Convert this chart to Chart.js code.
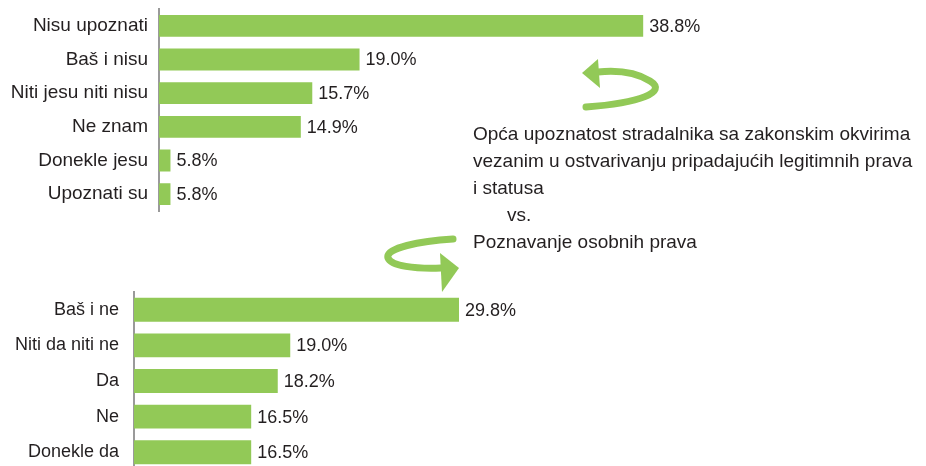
<!DOCTYPE html>
<html>
<head>
<meta charset="utf-8">
<script src="https://cdn.jsdelivr.net/npm/chart.js@4.4.1/dist/chart.umd.min.js"></script>
<style>
    html, body { margin: 0; padding: 0; background: #fff; }
    body { width: 926px; height: 466px; position: relative; overflow: hidden; font-family: "Liberation Sans", Arial, sans-serif; color: #231f20; }
    .chart-box { position: absolute; left: 0; }
    #topBox { top: 0; width: 740px; height: 220px; }
    #bottomBox { top: 280px; width: 640px; height: 200px; }
    #arrows { position: absolute; left: 0; top: 0; pointer-events: none; }
    .note { position: absolute; left: 473px; top: 120px; font-size: 19px; line-height: 27px; white-space: nowrap; }
    .note .vs { padding-left: 34px; }
</style>
</head>
<body>

<div class="chart-box" id="topBox"><canvas id="topChart" width="740" height="220"></canvas></div>
<div class="chart-box" id="bottomBox"><canvas id="bottomChart" width="640" height="200"></canvas></div>

<svg id="arrows" width="926" height="466">
    <!-- upper curl, pointing back at the first chart -->
    <path d="M 586 107 C 640 103, 668 92, 650 81 C 637 73, 618 70, 598 72" fill="none" stroke="#92c957" stroke-width="7" stroke-linecap="round"/>
    <polygon points="582,73 598,59 600,88" fill="#92c957"/>
    <!-- lower curl, pointing down at the second chart -->
    <path d="M 453 239 C 420 241, 385 248, 388 258 C 391 266, 415 269, 441 268" fill="none" stroke="#92c957" stroke-width="7" stroke-linecap="round"/>
    <polygon points="459,268 440,253 442,292" fill="#92c957"/>
</svg>

<div class="note">
    <div>Opća upoznatost stradalnika sa zakonskim okvirima</div>
    <div>vezanim u ostvarivanju pripadajućih legitimnih prava</div>
    <div>i statusa</div>
    <div class="vs">vs.</div>
    <div>Poznavanje osobnih prava</div>
</div>

<script>
// Data
const topLabels = ['Nisu upoznati', 'Baš i nisu', 'Niti jesu niti nisu', 'Ne znam', 'Donekle jesu', 'Upoznati su'];
const topValues = [38.8, 19.0, 15.7, 14.9, 5.8, 5.8];

const bottomLabels = ['Baš i ne', 'Niti da niti ne', 'Da', 'Ne', 'Donekle da'];
const bottomValues = [29.8, 19.0, 18.2, 16.5, 16.5];

const barGreen = '#92c957';
const textColor = '#231f20';
const axisGray = '#9a9a9a';

// Draws "xx.x%" just after the end of each bar
const valueLabels = {
    id: 'valueLabels',
    afterDatasetsDraw(chart, args, opts) {
        const ctx = chart.ctx;
        const values = chart.data.datasets[0].data;
        ctx.save();
        ctx.fillStyle = textColor;
        ctx.font = opts.size + 'px "Liberation Sans", Arial, sans-serif';
        ctx.textAlign = 'left';
        ctx.textBaseline = 'middle';
        chart.getDatasetMeta(0).data.forEach((bar, i) => {
            ctx.fillText(values[i].toFixed(1) + '%', bar.x + 6, bar.y + 1);
        });
        ctx.restore();
    }
};

function makeBarChart(canvasId, labels, values, cfg) {
    const ctx = document.getElementById(canvasId).getContext('2d');
    return new Chart(ctx, {
        type: 'bar',
        data: {
            labels: labels,
            datasets: [{
                data: values,
                backgroundColor: barGreen,
                borderWidth: 0,
                categoryPercentage: 1,
                barPercentage: cfg.barPct
            }]
        },
        options: {
            indexAxis: 'y',
            responsive: false,
            animation: false,
            devicePixelRatio: 1,
            layout: { padding: cfg.padding },
            plugins: {
                legend: { display: false },
                tooltip: { enabled: false },
                valueLabels: { size: cfg.valueSize }
            },
            scales: {
                x: {
                    type: 'linear',
                    min: cfg.min,
                    max: cfg.max,
                    display: false
                },
                y: {
                    grid: { display: false, drawTicks: false },
                    border: { display: true, color: axisGray, width: 2 },
                    ticks: {
                        color: textColor,
                        padding: cfg.tickPad,
                        font: { family: '"Liberation Sans", Arial, sans-serif', size: cfg.labelSize }
                    },
                    afterFit(scale) {
                        // fixed axis position, and no extra room for the labels above/below
                        scale.width = cfg.axisX;
                        scale.paddingTop = 0;
                        scale.paddingBottom = 0;
                    }
                }
            }
        },
        plugins: [valueLabels]
    });
}

makeBarChart('topChart', topLabels, topValues, {
    min: 5, max: 45,
    axisX: 159, tickPad: 11,
    barPct: 0.65,
    labelSize: 19, valueSize: 18,
    padding: { top: 9, bottom: 9, left: 0, right: 8 }
});

makeBarChart('bottomChart', bottomLabels, bottomValues, {
    min: 9, max: 41,
    axisX: 134, tickPad: 15,
    barPct: 0.67,
    labelSize: 18, valueSize: 18,
    padding: { top: 12, bottom: 10, left: 0, right: 6 }
});
</script>
</body>
</html>
